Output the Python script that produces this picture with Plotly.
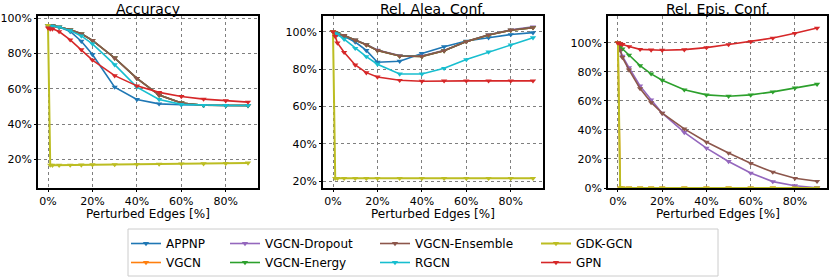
import plotly.graph_objects as go

# ---------------- data ----------------
x_pct = [0, 1, 2, 5, 10, 15, 20, 30, 40, 50, 60, 70, 80, 90]

models = ["APPNP", "VGCN", "VGCN-Dropout", "VGCN-Energy", "VGCN-Ensemble", "RGCN", "GDK-GCN", "GPN"]
colors = ["#1f77b4", "#ff7f0e", "#9467bd", "#2ca02c", "#8c564b", "#17becf", "#bcbd22", "#d62728"]

# Accuracy
acc_appnp = [96, 95.5, 95.5, 95, 92.5, 87, 79.5, 61, 54, 51.5, 51, 50.7, 50.6, 50.6]
acc_vgcn = [96, 96, 95.8, 95, 93.5, 91.2, 87.5, 77.5, 66, 56.5, 52, 50.7, 50.6, 50.6]
acc_dropout = [96, 96, 95.8, 95, 93.5, 91.2, 87.5, 77.5, 66, 56.5, 52, 50.7, 50.6, 50.6]
acc_energy = [96, 96, 95.8, 95, 93.5, 91.2, 87.5, 77.5, 66, 56.5, 52, 50.7, 50.6, 50.6]
acc_ensemble = [96, 96, 95.8, 95, 93.5, 91.2, 87.5, 77.5, 66, 56.5, 52, 50.7, 50.6, 50.6]
acc_rgcn = [96, 95.5, 95.5, 95, 93, 90, 85.5, 73.7, 61, 54, 51.2, 50.7, 50.6, 50.6]
acc_gdk = [96, 16.8, 16.7, 16.7, 16.8, 16.9, 17, 17.1, 17.2, 17.4, 17.5, 17.6, 17.7, 18]
acc_gpn = [94.5, 94, 94, 92.5, 87.8, 82.2, 76.3, 67.5, 61.7, 58, 55.7, 54.2, 53.3, 52.5]

# Relative aleatoric confidence
alea_appnp = [100, 99, 98.5, 97.5, 94.5, 90, 83.7, 84.2, 88.4, 92, 95, 96.8, 98.5, 99.5]
alea_vgcn = [100, 99.5, 99, 98, 95.5, 93, 90, 87, 86.8, 89.8, 94.7, 98.2, 100.8, 102.2]
alea_dropout = [100, 99.5, 99, 98, 95.6, 93.2, 90.2, 87.2, 87, 90, 94.8, 98.4, 101, 102.6]
alea_energy = [100, 99.5, 99, 98, 95.5, 93, 90, 87, 86.8, 89.8, 94.7, 98.2, 100.8, 102.2]
alea_ensemble = [100, 99.5, 99, 98, 95.5, 93, 90, 87, 86.8, 89.8, 94.7, 98.2, 100.8, 102.2]
alea_rgcn = [100, 99, 98.5, 96, 91.1, 86.7, 82.6, 77.4, 77.4, 80.4, 85.1, 89.2, 92.9, 96.8]
alea_gdk = [100, 21.6, 21.6, 21.6, 21.6, 21.6, 21.6, 21.6, 21.6, 21.6, 21.6, 21.6, 21.6, 21.6]
alea_gpn = [100, 97.5, 94, 89, 82.2, 78.1, 75.8, 74, 73.5, 73.7, 73.7, 73.7, 73.7, 73.7]

# Relative epistemic confidence (APPNP and RGCN have none)
epis_vgcn = [100, 0, 0, 0, 0, 0, 0, 0, 0, 0, 0, 0, 0, 0]
epis_dropout = [100, 95, 91, 83, 70.4, 60.8, 51.6, 38.3, 27.5, 18.3, 10.3, 4.4, 1.6, 0.2]
epis_energy = [100, 98, 96, 91.7, 84.4, 78.7, 74.3, 67.7, 64.2, 63.3, 64.2, 66.3, 69, 71.6]
epis_ensemble = [100, 95, 90, 81.4, 68.6, 58.9, 51.6, 40.8, 31.7, 24.1, 17, 11, 6.7, 4.6]
epis_gdk = [100, 0, 0, 0, 0, 0, 0, 0, 0, 0, 0, 0, 0, 0]
epis_gpn = [100, 99.5, 99, 97.5, 95.6, 95.2, 95, 95.4, 96.8, 98.9, 100.9, 103.4, 106.7, 110.3]

panel_titles = ["Accuracy", "Rel. Alea. Conf.", "Rel. Epis. Conf."]
x_title = "Perturbed Edges [%]"
x_tick_vals = [0, 20, 40, 60, 80]
y_tick_vals = [[20, 40, 60, 80, 100], [20, 40, 60, 80, 100], [0, 20, 40, 60, 80, 100]]

panels = [
    [acc_appnp, acc_vgcn, acc_dropout, acc_energy, acc_ensemble, acc_rgcn, acc_gdk, acc_gpn],
    [alea_appnp, alea_vgcn, alea_dropout, alea_energy, alea_ensemble, alea_rgcn, alea_gdk, alea_gpn],
    [None, epis_vgcn, epis_dropout, epis_energy, epis_ensemble, None, epis_gdk, epis_gpn],
]

# ---------------- layout geometry ----------------
W, H = 831, 279
FONT = "DejaVu Sans"
x_dom = [(38, 258), (323, 543), (608, 827)]
y_top, y_bot = 16, 188
y_ranges = [[3.8, 101.3], [16.4, 108.4], [0, 118.6]]

legend_of = {0: "legend", 1: "legend", 2: "legend2", 3: "legend2",
             4: "legend3", 5: "legend3", 6: "legend4", 7: "legend4"}

fig = go.Figure()

for p, series_list in enumerate(panels):
    xa = "x" if p == 0 else f"x{p+1}"
    ya = "y" if p == 0 else f"y{p+1}"
    for i, vals in enumerate(series_list):
        if vals is None:
            continue
        fig.add_trace(go.Scatter(
            x=x_pct, y=vals, mode="lines+markers", name=models[i],
            line=dict(color=colors[i], width=2 if models[i] == "GDK-GCN" else 1.6),
            marker=dict(symbol="triangle-down", size=5.5, color=colors[i]),
            xaxis=xa, yaxis=ya, showlegend=(p == 0), legend=legend_of[i],
        ))

axis_common = dict(
    showline=True, linecolor="black", linewidth=1.5, mirror=True,
    showgrid=True, gridcolor="#7f7f7f", gridwidth=1, griddash="dot",
    ticks="outside", ticklen=2, tickwidth=1, tickcolor="black",
    tickfont=dict(family=FONT, size=11, color="black"), zeroline=False,
    automargin=False,
)

layout = dict(
    width=W, height=H, margin=dict(l=0, r=0, t=0, b=0, autoexpand=False),
    paper_bgcolor="white", plot_bgcolor="white",
    font=dict(family=FONT, color="black"),
)
for p in range(3):
    k = "" if p == 0 else str(p + 1)
    x0, x1 = x_dom[p]
    layout[f"xaxis{k}"] = dict(
        axis_common, domain=[x0 / W, x1 / W], range=[-4.5, 94.5],
        tickmode="array", tickvals=x_tick_vals, ticktext=[f"{v}%" for v in x_tick_vals],
        anchor=f"y{k}",
    )
    layout[f"yaxis{k}"] = dict(
        axis_common, domain=[1 - y_bot / H, 1 - y_top / H], range=y_ranges[p],
        tickmode="array", tickvals=y_tick_vals[p], ticktext=[f"{v}%" for v in y_tick_vals[p]],
        anchor=f"x{k}",
    )

legend_common = dict(
    orientation="v", bgcolor="rgba(0,0,0,0)", borderwidth=0,
    font=dict(family=FONT, size=12, color="black"),
    xanchor="left", yanchor="top", yref="paper", xref="paper",
    tracegroupgap=0, itemwidth=30,
)
legend_text_x = [168, 267, 417, 578]
for j, name in enumerate(["legend", "legend2", "legend3", "legend4"]):
    layout[name] = dict(legend_common, x=(legend_text_x[j] - 42) / W, y=1 - 229 / H)

fig.update_layout(**layout)

for p in range(3):
    x0, x1 = x_dom[p]
    cx = (x0 + x1) / 2 / W
    fig.add_annotation(
        text=panel_titles[p], xref="paper", yref="paper",
        x=cx, y=1 - 9 / H, xanchor="center", yanchor="middle", borderpad=0,
        showarrow=False, font=dict(family=FONT, size=14, color="black"),
    )
    fig.add_annotation(
        text=x_title, xref="paper", yref="paper",
        x=cx, y=1 - 213.5 / H, xanchor="center", yanchor="middle", borderpad=0,
        showarrow=False, font=dict(family=FONT, size=12, color="black"),
    )

# legend frame
fig.add_shape(type="rect", xref="paper", yref="paper",
              x0=128 / W, x1=718 / W, y0=1 - 276 / H, y1=1 - 229 / H,
              line=dict(color="#cccccc", width=1), fillcolor="rgba(0,0,0,0)", layer="below")

fig.write_html("out.html", config={"displayModeBar": False},
               post_script="document.body.style.margin='0';document.body.style.padding='0';")
